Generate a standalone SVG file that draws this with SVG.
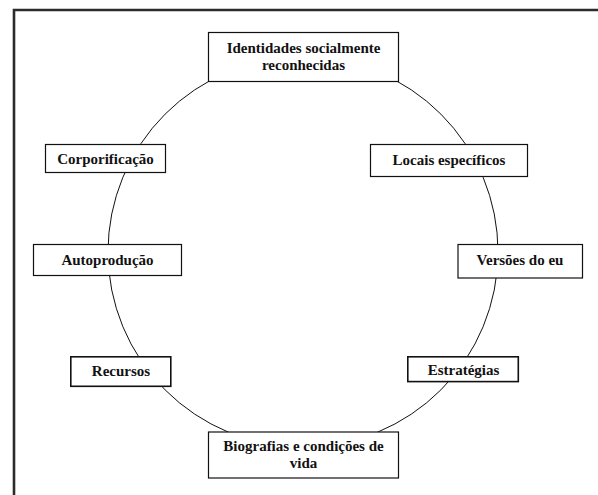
<svg xmlns="http://www.w3.org/2000/svg" width="598" height="495" viewBox="0 0 598 495" font-family="Liberation Serif, Times New Roman, Times, serif" font-weight="bold" font-size="15">
<style>
.box{fill:#fff;stroke:#111;stroke-width:1.2}
.box2{fill:#fff;stroke:#111;stroke-width:1.6}
</style>
<rect width="598" height="495" fill="#fff"/>
<path d="M14,495 V10 H598" fill="none" stroke="#2b2b2b" stroke-width="2.6"/>
<g id="connectors">
<circle cx="303" cy="252" r="195" fill="none" stroke="#111" stroke-width="1"/>
</g>
<g fill="#111" text-anchor="middle" font-family="Liberation Serif, Times New Roman, serif">
<g id="identidades">
<rect class="box" x="208.5" y="32.5" width="190" height="49"/>
<text x="303.5" y="53">Identidades socialmente</text>
<text x="303.5" y="70">reconhecidas</text>
</g>
<g id="corporificacao">
<rect class="box" x="45.5" y="144.5" width="120" height="28"/>
<text x="105.5" y="164">Corporificação</text>
</g>
<g id="locais">
<rect class="box" x="370.5" y="144.5" width="157" height="32"/>
<text x="449" y="164.5">Locais específicos</text>
</g>
<g id="autoproducao">
<rect class="box" x="33.5" y="244.5" width="148" height="31"/>
<text x="107.5" y="265">Autoprodução</text>
</g>
<g id="versoes">
<rect class="box" x="458" y="244.5" width="124.5" height="33.5"/>
<text x="520" y="265">Versões do eu</text>
</g>
<g id="recursos">
<rect class="box2" x="70.8" y="356.8" width="100" height="29.5"/>
<text x="121" y="376">Recursos</text>
</g>
<g id="estrategias">
<rect class="box2" x="407.8" y="356.8" width="110.5" height="24.8"/>
<text x="463.5" y="375">Estratégias</text>
</g>
<g id="biografias">
<rect class="box" x="208.5" y="432" width="190" height="46"/>
<text x="303.5" y="451">Biografias e condições de</text>
<text x="303.5" y="468">vida</text>
</g>
</g>
</svg>
